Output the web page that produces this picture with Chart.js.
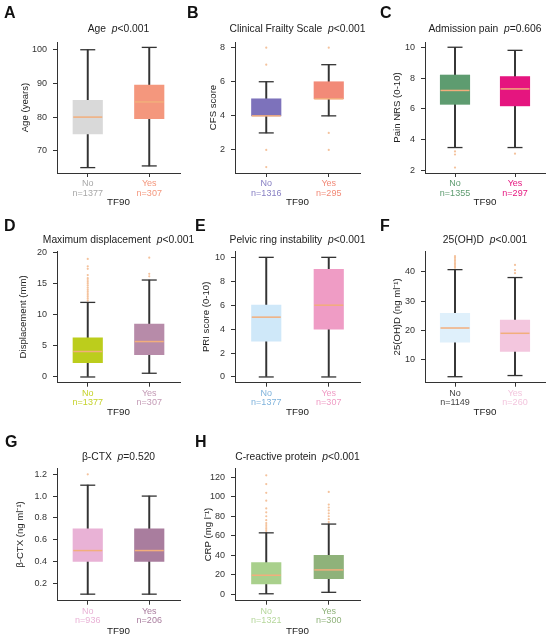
<!DOCTYPE html>
<html><head><meta charset="utf-8">
<script src="https://cdn.jsdelivr.net/npm/chart.js@4.4.1/dist/chart.umd.min.js"></script>
<style>
html,body{margin:0;padding:0;background:#fff;width:550px;height:636px;overflow:hidden;font-family:"Liberation Sans",Arial,sans-serif;}
#wrap{position:relative;width:550px;height:636px;}
canvas{position:absolute;}
.letter{position:absolute;font-weight:bold;font-size:16px;color:#111;line-height:1;}
.title{position:absolute;font-size:10.3px;color:#222;white-space:pre;transform:translate(-50%,-50%);line-height:1;}
</style></head><body><div id="wrap"></div>
<script>
// ---- data ----
const categories = ['No', 'Yes'];
// five-number summaries: [min, q1, median, q3, max]
const ageNo = [65, 75, 80, 85, 100];
const ageYes = [65.5, 79.5, 84.5, 89.5, 100.7];
const ageOutNo = [];
const ageOutYes = [];
const ageCounts = [1377, 307];
const ageTicks = [70, 80, 90, 100];

const cfsNo = [3, 4, 4, 5, 6];
const cfsYes = [4, 5, 5, 6, 7];
const cfsOutNo = [1, 2, 7, 8];
const cfsOutYes = [2, 3, 8];
const cfsCounts = [1316, 295];
const cfsTicks = [2, 4, 6, 8];

const painNo = [3.5, 6.3, 7.2, 8.2, 10];
const painYes = [3.5, 6.2, 7.3, 8.1, 9.8];
const painOutNo = [3.25, 3.05, 2.2];
const painOutYes = [3.1];
const painCounts = [1355, 297];
const painTicks = [2, 4, 6, 8, 10];

const dispNo = [0, 2.3, 4.1, 6.3, 12];
const dispYes = [0.6, 3.6, 5.7, 8.5, 15.6];
const dispOutNo = [12.3, 12.6, 12.9, 13.2, 13.5, 13.8, 14.1, 14.4, 14.7, 15.0, 15.3, 15.6, 15.9, 16.4, 17.4, 17.8, 19.0];
const dispOutYes = [16.2, 16.6, 19.2];
const dispCounts = [1377, 307];
const dispTicks = [0, 5, 10, 15, 20];

const priNo = [0, 3, 5, 6, 10];
const priYes = [0, 4, 6, 9, 10];
const priOutNo = [];
const priOutYes = [];
const priCounts = [1377, 307];
const priTicks = [0, 2, 4, 6, 8, 10];

const vitdNo = [4.2, 16, 20.8, 25.8, 40.7];
const vitdYes = [4.6, 12.8, 19, 23.5, 38];
const vitdOutNo = [41.3, 41.8, 42.3, 42.8, 43.3, 43.8, 44.3, 44.8, 45.3];
const vitdOutYes = [39.5, 40.5, 42.3];
const vitdCounts = [1149, 260];
const vitdTicks = [10, 20, 30, 40];

const ctxNo = [0.1, 0.4, 0.5, 0.7, 1.1];
const ctxYes = [0.1, 0.4, 0.5, 0.7, 1.0];
const ctxOutNo = [1.2];
const ctxOutYes = [];
const ctxCounts = [936, 206];
const ctxTicks = [0.2, 0.4, 0.6, 0.8, 1.0, 1.2];

const crpNo = [0.5, 10.6, 19.5, 32.5, 63];
const crpYes = [2, 16, 25, 40, 72];
const crpOutNo = [65, 67, 69, 71, 73, 76, 80, 84, 88, 96, 104, 113, 122];
const crpOutYes = [74, 77, 80, 83, 86, 89, 92, 105];
const crpCounts = [1321, 300];
const crpTicks = [0, 20, 40, 60, 80, 100, 120];

// ---- layout / styling ----
const FONT = '"Liberation Sans", Arial, sans-serif';
const medColor = '#f2ae7c';
const outColor = '#f4c29c';
const colLeft = [0, 180, 365];
const rows = [
  {top: 0, areaTop: 42, areaBottom: 173, H: 208, titleY: 29, letterY: 5},
  {top: 205, areaTop: 46, areaBottom: 177.7, H: 213, titleY: 240, letterY: 218},
  {top: 415, areaTop: 53.3, areaBottom: 185.7, H: 222, titleY: 457, letterY: 434}
];
const panels = [
  {id: 'A', row: 0, col: 0, lx: 4, title: 'Age', p: '<0.001', yTitle: 'Age (years)', stats: [ageNo, ageYes], out: [ageOutNo, ageOutYes], counts: ageCounts, ticks: ageTicks, yMin: 63.4, yMax: 102.3, dec: 0, left: 57, yTitleX: 25, colors: ['#d9d9d9', '#f4977d'], labelColors: ['#a8a8a8', '#f4977d']},
  {id: 'B', row: 0, col: 1, lx: 7, title: 'Clinical Frailty Scale', p: '<0.001', yTitle: 'CFS score', stats: [cfsNo, cfsYes], out: [cfsOutNo, cfsOutYes], counts: cfsCounts, ticks: cfsTicks, yMin: 0.65, yMax: 8.33, dec: 0, left: 55, yTitleX: 33, colors: ['#7d72bb', '#f28a78'], labelColors: ['#8880c4', '#f28a78']},
  {id: 'C', row: 0, col: 2, lx: 15, title: 'Admission pain', p: '=0.606', yTitle: 'Pain NRS (0-10)', stats: [painNo, painYes], out: [painOutNo, painOutYes], counts: painCounts, ticks: painTicks, yMin: 1.85, yMax: 10.34, dec: 0, left: 60, yTitleX: 32, colors: ['#5e9c70', '#e5157f'], labelColors: ['#5e9c70', '#e5157f']},
  {id: 'D', row: 1, col: 0, lx: 4, title: 'Maximum displacement', p: '<0.001', yTitle: 'Displacement (mm)', stats: [dispNo, dispYes], out: [dispOutNo, dispOutYes], counts: dispCounts, ticks: dispTicks, yMin: -0.92, yMax: 20.27, dec: 0, left: 57, yTitleX: 23, colors: ['#bccd1c', '#b78ba9'], labelColors: ['#c5d22a', '#c39ab5']},
  {id: 'E', row: 1, col: 1, lx: 15, title: 'Pelvic ring instability', p: '<0.001', yTitle: 'PRI score (0-10)', stats: [priNo, priYes], out: [priOutNo, priOutYes], counts: priCounts, ticks: priTicks, yMin: -0.48, yMax: 10.53, dec: 0, left: 55, yTitleX: 26, colors: ['#cfe8f9', '#ef9cc5'], labelColors: ['#7fb3dc', '#ef9cc5']},
  {id: 'F', row: 1, col: 2, lx: 15, title: '25(OH)D', p: '<0.001', yTitle: '25(OH)D (ng ml\u207B\u00B9)', stats: [vitdNo, vitdYes], out: [vitdOutNo, vitdOutYes], counts: vitdCounts, ticks: vitdTicks, yMin: 2.16, yMax: 47.05, dec: 0, left: 60, yTitleX: 32, colors: ['#dff0fb', '#f3c6de'], labelColors: ['#444444', '#f3c6de']},
  {id: 'G', row: 2, col: 0, lx: 5, title: '\u03B2-CTX', p: '=0.520', yTitle: '\u03B2-CTX (ng ml\u207B\u00B9)', stats: [ctxNo, ctxYes], out: [ctxOutNo, ctxOutYes], counts: ctxCounts, ticks: ctxTicks, yMin: 0.04, yMax: 1.255, dec: 1, left: 57, yTitleX: 20, colors: ['#e9b2d6', '#a97d9e'], labelColors: ['#e9b2d6', '#a97d9e']},
  {id: 'H', row: 2, col: 1, lx: 15, title: 'C-reactive protein', p: '<0.001', yTitle: 'CRP (mg l\u207B\u00B9)', stats: [crpNo, crpYes], out: [crpOutNo, crpOutYes], counts: crpCounts, ticks: crpTicks, yMin: -6.6, yMax: 129.2, dec: 0, left: 55, yTitleX: 28, colors: ['#a9d08c', '#8fb27a'], labelColors: ['#b5d79b', '#8fb27a']}
];

const wrap = document.getElementById('wrap');
const W = 183, AREA_RIGHT = 180;

function build(p) {
  const g = rows[p.row];
  const cl = colLeft[p.col];
  const canvas = document.createElement('canvas');
  canvas.width = W; canvas.height = g.H;
  canvas.style.left = cl + 'px'; canvas.style.top = g.top + 'px';
  canvas.style.width = W + 'px'; canvas.style.height = g.H + 'px';
  wrap.appendChild(canvas);

  const box = p.stats.map(s => [s[1], s[3]]);
  const whisk = p.stats.map(s => [s[0], s[4]]);
  const caps = [], meds = [], outs = [];
  p.stats.forEach((s, i) => {
    caps.push({x: categories[i], y: s[0]}, {x: categories[i], y: s[4]});
    meds.push({x: categories[i], y: s[2]});
    p.out[i].forEach(v => outs.push({x: categories[i], y: v}));
  });

  new Chart(canvas, {
    type: 'bar',
    data: {
      labels: categories,
      datasets: [
        {type: 'bar', data: whisk, backgroundColor: '#333333', barThickness: 1.3, grouped: false, order: 4},
        {type: 'bar', data: box, backgroundColor: p.colors, barThickness: 29.5, grouped: false, order: 3},
        {type: 'line', data: outs, showLine: false, pointRadius: 1.1, pointBackgroundColor: outColor, pointBorderWidth: 0, order: 5, clip: false},
        {type: 'line', data: caps, showLine: false, pointStyle: 'line', pointRadius: 7.5, pointBorderColor: '#333333', pointBorderWidth: 1.3, order: 2, clip: false},
        {type: 'line', data: meds, showLine: false, pointStyle: 'line', pointRadius: 14.5, pointBorderColor: medColor, pointBorderWidth: 1.5, order: 1, clip: false}
      ]
    },
    options: {
      responsive: false, animation: false, events: [], devicePixelRatio: 1,
      layout: {autoPadding: false, padding: {top: g.areaTop, right: W - AREA_RIGHT, left: 0, bottom: 0}},
      plugins: {legend: {display: false}, tooltip: {enabled: false}},
      scales: {
        x: {
          type: 'category', offset: true,
          grid: {display: true, drawOnChartArea: false, drawTicks: true, tickLength: 4, color: '#333333', offset: false},
          border: {display: true, color: '#333333', width: 1},
          ticks: {
            color: (ctx) => p.labelColors[ctx.index],
            font: {family: FONT, size: 9, lineHeight: 1.05},
            padding: 2, maxRotation: 0, autoSkip: false,
            callback: (v, i) => [categories[i], 'n=' + p.counts[i]]
          },
          title: {display: true, text: 'TF90', color: '#222222', font: {family: FONT, size: 9.8}, padding: 0},
          afterFit: (s) => { s.height = g.H - g.areaBottom; s.paddingLeft = 0; s.paddingRight = 0; }
        },
        y: {
          type: 'linear', min: p.yMin, max: p.yMax,
          afterBuildTicks: (s) => { s.ticks = p.ticks.map(v => ({value: v})); },
          grid: {display: true, drawOnChartArea: false, drawTicks: true, tickLength: 4, color: '#333333'},
          border: {display: true, color: '#333333', width: 1},
          ticks: {color: '#333333', font: {family: FONT, size: 9}, padding: 6, autoSkip: false,
                  callback: (v) => Number(v).toFixed(p.dec)},
          title: {display: true, text: p.yTitle, color: '#222222', font: {family: FONT, size: 9.6}, padding: {top: p.yTitleX - 5.8, bottom: 0}},
          afterFit: (s) => { s.width = p.left; s.paddingTop = 0; s.paddingBottom = 0; }
        }
      }
    }
  });

  const letter = document.createElement('div');
  letter.className = 'letter';
  letter.textContent = p.id;
  letter.style.left = (cl + p.lx) + 'px';
  letter.style.top = g.letterY + 'px';
  wrap.appendChild(letter);

  const t = document.createElement('div');
  t.className = 'title';
  t.innerHTML = p.title + '  <i>p</i>' + p.p.replace('<', '&lt;');
  t.style.left = (cl + (p.left + AREA_RIGHT) / 2) + 'px';
  t.style.top = g.titleY + 'px';
  wrap.appendChild(t);
}

panels.forEach(build);
</script></body></html>
